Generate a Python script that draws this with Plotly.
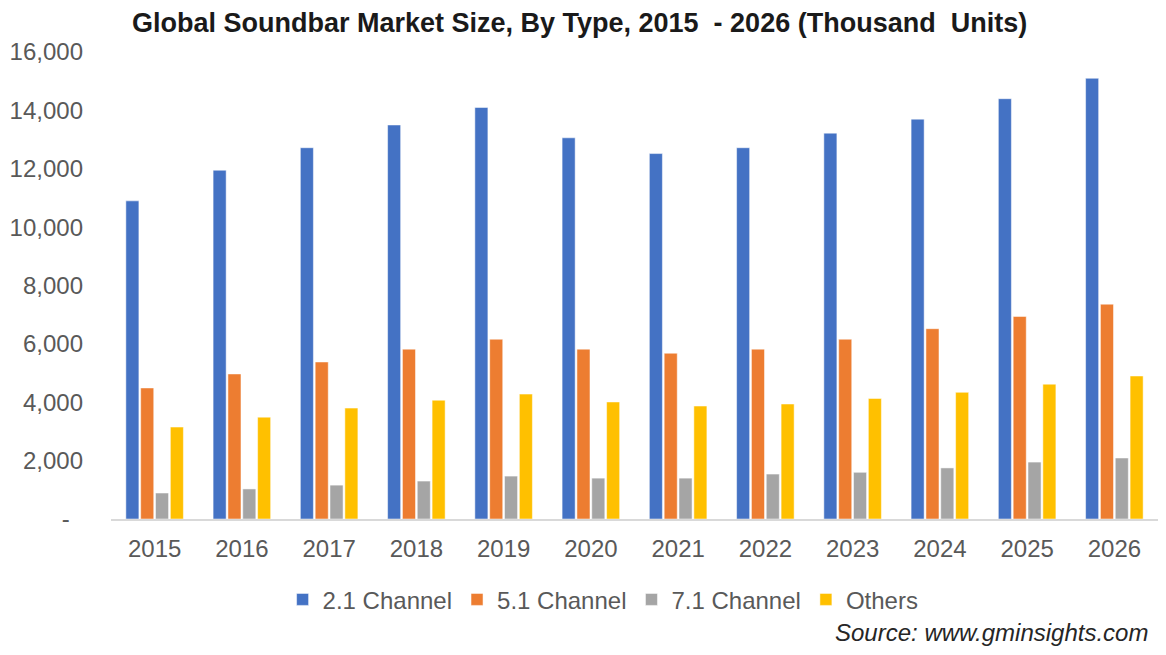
import plotly.graph_objects as go

years = ["2015", "2016", "2017", "2018", "2019", "2020", "2021", "2022", "2023", "2024", "2025", "2026"]
ch21 = [10900, 11950, 12720, 13500, 14100, 13060, 12520, 12720, 13220, 13700, 14400, 15100]
ch51 = [4490, 4970, 5380, 5820, 6160, 5820, 5680, 5820, 6160, 6520, 6940, 7360]
ch71 = [890, 1030, 1160, 1300, 1470, 1400, 1400, 1540, 1600, 1750, 1950, 2090]
others = [3150, 3490, 3800, 4070, 4280, 4010, 3870, 3940, 4130, 4340, 4620, 4900]

series = [
    ("2.1 Channel", ch21, "#4472C4"),
    ("5.1 Channel", ch51, "#ED7D31"),
    ("7.1 Channel", ch71, "#A5A5A5"),
    ("Others", others, "#FFC000"),
]
tick_vals = [0, 2000, 4000, 6000, 8000, 10000, 12000, 14000, 16000]
tick_text = ["-\u00a0\u00a0", "2,000", "4,000", "6,000", "8,000", "10,000", "12,000", "14,000", "16,000"]

fig = go.Figure()
for name, vals, color in series:
    fig.add_trace(go.Bar(x=years, y=vals, name=name,
                         marker=dict(color=color, line=dict(color="white", width=0.5))))

font = "Liberation Sans, Arial, sans-serif"
fig.update_layout(
    width=1150, height=639,
    paper_bgcolor="white", plot_bgcolor="white",
    margin=dict(l=103, r=0, t=44, b=128),
    barmode="group", bargap=0.32, bargroupgap=0.12,
    font=dict(family=font, color="#595959", size=24),
    title=dict(text="<b>Global Soundbar Market Size, By Type, 2015  - 2026 (Thousand  Units)</b>",
               x=0.497, xanchor="center", y=0.977, yanchor="middle",
               font=dict(family=font, size=27, color="#1a1a1a")),
    showlegend=True,
    legend=dict(orientation="h", x=0.47, xanchor="center", y=-0.173, yanchor="middle",
                font=dict(family=font, size=24, color="#595959"), itemwidth=30,
                traceorder="normal"),
)
fig.update_xaxes(showgrid=False, showline=True, linecolor="#D9D9D9", linewidth=1.5,
                 ticks="", tickfont=dict(size=24, color="#595959"), ticklabelstandoff=7,
                 automargin=False)
fig.update_yaxes(range=[0, 16000], showgrid=False, showline=False, zeroline=False,
                 tickvals=tick_vals, ticktext=tick_text, ticks="",
                 tickfont=dict(size=24, color="#595959"), ticklabelstandoff=27,
                 automargin=False)
fig.add_annotation(text="<i>Source: www.gminsights.com</i>", xref="paper", yref="paper",
                   x=0.992, xanchor="right", y=-0.244, yanchor="middle", showarrow=False,
                   font=dict(family=font, size=24, color="#262626"))
fig.write_html("out.html")
